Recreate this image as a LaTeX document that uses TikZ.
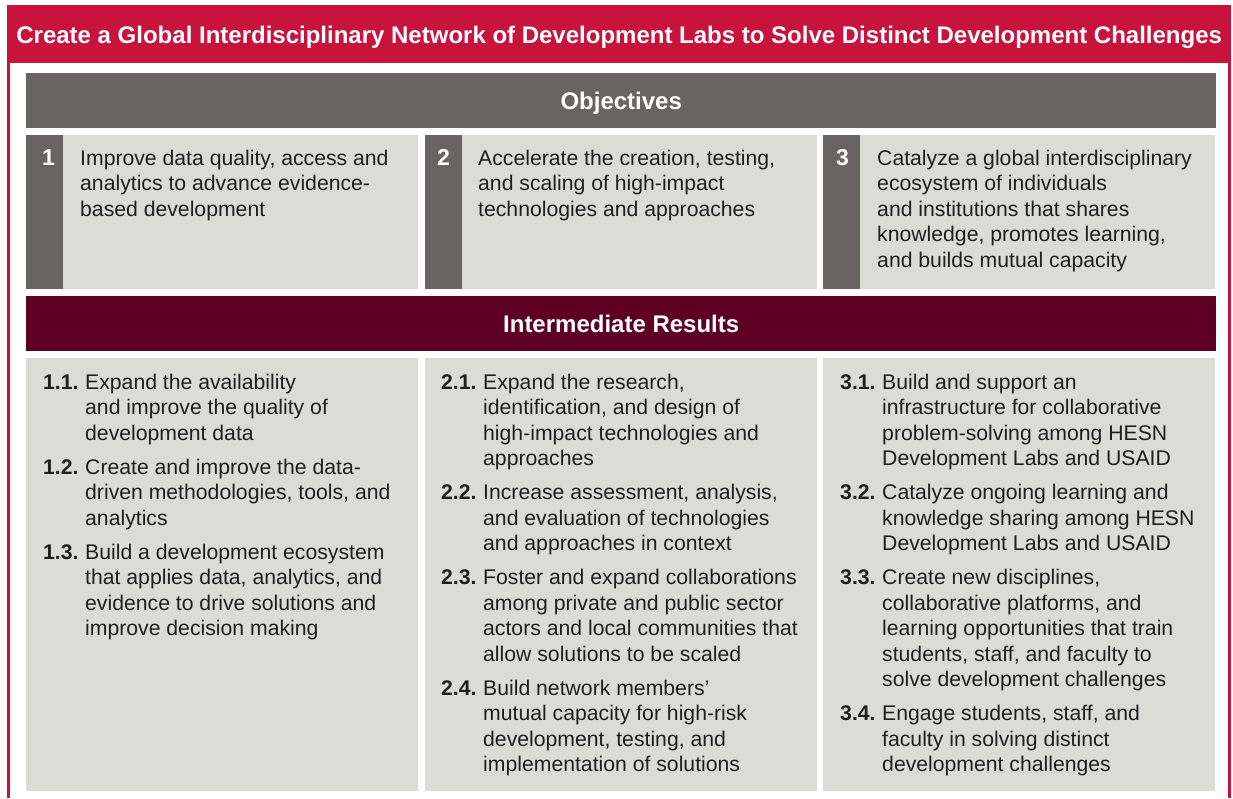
\documentclass[tikz,border=0pt]{standalone}
\usepackage{fontspec}
\setmainfont{Liberation Sans}
\usetikzlibrary{positioning}

\definecolor{hesnred}{RGB}{200,20,60}
\definecolor{objgray}{RGB}{103,100,99}
\definecolor{boxgray}{RGB}{220,220,215}
\definecolor{irmaroon}{RGB}{94,0,34}
\definecolor{txtgray}{RGB}{30,30,30}

\newcommand{\obtext}[1]{\parbox[t]{360pt}{\raggedright #1}}
\newcommand{\irtext}[2]{\makebox[42pt][l]{\bfseries #1}\parbox[t]{340pt}{\raggedright #2}}

\begin{document}
\begin{tikzpicture}[x=1pt,y=-1pt,
    titlebar/.style={fill=hesnred, text=white, font=\fontsize{24}{28}\selectfont\bfseries,
        minimum width=1224pt, minimum height=58pt, inner sep=0pt, text height=18pt, text depth=0pt, anchor=north west},
    headbar/.style={text=white, font=\fontsize{24}{28}\selectfont\bfseries,
        minimum width=1190pt, minimum height=55pt, inner sep=0pt, text height=17pt, text depth=0pt, anchor=north west},
    objbox/.style={fill=boxgray, minimum width=392pt, minimum height=154pt, inner sep=0pt, anchor=north west},
    objtab/.style={fill=objgray, minimum width=37pt, minimum height=154pt, inner sep=0pt, anchor=north west},
    resbox/.style={fill=boxgray, minimum width=392pt, minimum height=433pt, inner sep=0pt, anchor=north west},
    numlbl/.style={text=white, font=\fontsize{23}{25.5}\selectfont\bfseries, inner sep=0pt, anchor=base west},
    bodytxt/.style={text=txtgray, font=\fontsize{21.2}{25.5}\selectfont, inner sep=0pt, anchor=base west}]
    \useasboundingbox (0,0) rectangle (1233,798);
    \fill[white] (0,0) rectangle (1233,798);

    % frame and title
    \node[titlebar] (title) at (7,5) {Create a Global Interdisciplinary Network of Development Labs to Solve Distinct Development Challenges};
    \draw[hesnred, line width=2.5pt] (8.5,60) -- (8.5,798);
    \draw[hesnred, line width=2.5pt] (1229.5,60) -- (1229.5,798);

    % objectives
    \node[headbar, fill=objgray] (objhead) at (26,73) {Objectives};
    \foreach \i/\x in {1/26, 2/425, 3/823} {
        \node[objbox] (obj\i) at (\x,135) {};
        \node[objtab] (tab\i) at (\x,135) {};
    }
    \node[numlbl] (num1) at (42,165) {1};
    \node[numlbl] (num2) at (437,165) {2};
    \node[numlbl] (num3) at (836,165) {3};
    \node[bodytxt] (ob1) at (80,165) {\obtext{Improve data quality, access and\\ analytics to advance evidence-\\ based development}};
    \node[bodytxt] (ob2) at (478,165) {\obtext{Accelerate the creation, testing,\\ and scaling of high-impact\\ technologies and approaches}};
    \node[bodytxt] (ob3) at (877,165) {\obtext{Catalyze a global interdisciplinary\\ ecosystem of individuals\\ and institutions that shares\\ knowledge, promotes learning,\\ and builds mutual capacity}};

    % intermediate results
    \node[headbar, fill=irmaroon] (irhead) at (26,296) {Intermediate Results};
    \foreach \i/\x in {1/26, 2/425, 3/823} {
        \node[resbox] (res\i) at (\x,358) {};
    }
    \node[bodytxt] (r11) at (43,389) {\irtext{1.1.}{Expand the availability\\ and improve the quality of\\ development data}};
    \node[bodytxt] (r12) at (43,474) {\irtext{1.2.}{Create and improve the data-\\ driven methodologies, tools, and\\ analytics}};
    \node[bodytxt] (r13) at (43,559) {\irtext{1.3.}{Build a development ecosystem\\ that applies data, analytics, and\\ evidence to drive solutions and\\ improve decision making}};

    \node[bodytxt] (r21) at (441,389) {\irtext{2.1.}{Expand the research,\\ identification, and design of\\ high-impact technologies and\\ approaches}};
    \node[bodytxt] (r22) at (441,499.5) {\irtext{2.2.}{Increase assessment, analysis,\\ and evaluation of technologies\\ and approaches in context}};
    \node[bodytxt] (r23) at (441,584.5) {\irtext{2.3.}{Foster and expand collaborations\\ among private and public sector\\ actors and local communities that\\ allow solutions to be scaled}};
    \node[bodytxt] (r24) at (441,695) {\irtext{2.4.}{Build network members'\\ mutual capacity for high-risk\\ development, testing, and\\ implementation of solutions}};

    \node[bodytxt] (r31) at (840,389) {\irtext{3.1.}{Build and support an\\ infrastructure for collaborative\\ problem-solving among HESN\\ Development Labs and USAID}};
    \node[bodytxt] (r32) at (840,499.5) {\irtext{3.2.}{Catalyze ongoing learning and\\ knowledge sharing among HESN\\ Development Labs and USAID}};
    \node[bodytxt] (r33) at (840,584.5) {\irtext{3.3.}{Create new disciplines,\\ collaborative platforms, and\\ learning opportunities that train\\ students, staff, and faculty to\\ solve development challenges}};
    \node[bodytxt] (r34) at (840,720.5) {\irtext{3.4.}{Engage students, staff, and\\ faculty in solving distinct\\ development challenges}};
\end{tikzpicture}
\end{document}
